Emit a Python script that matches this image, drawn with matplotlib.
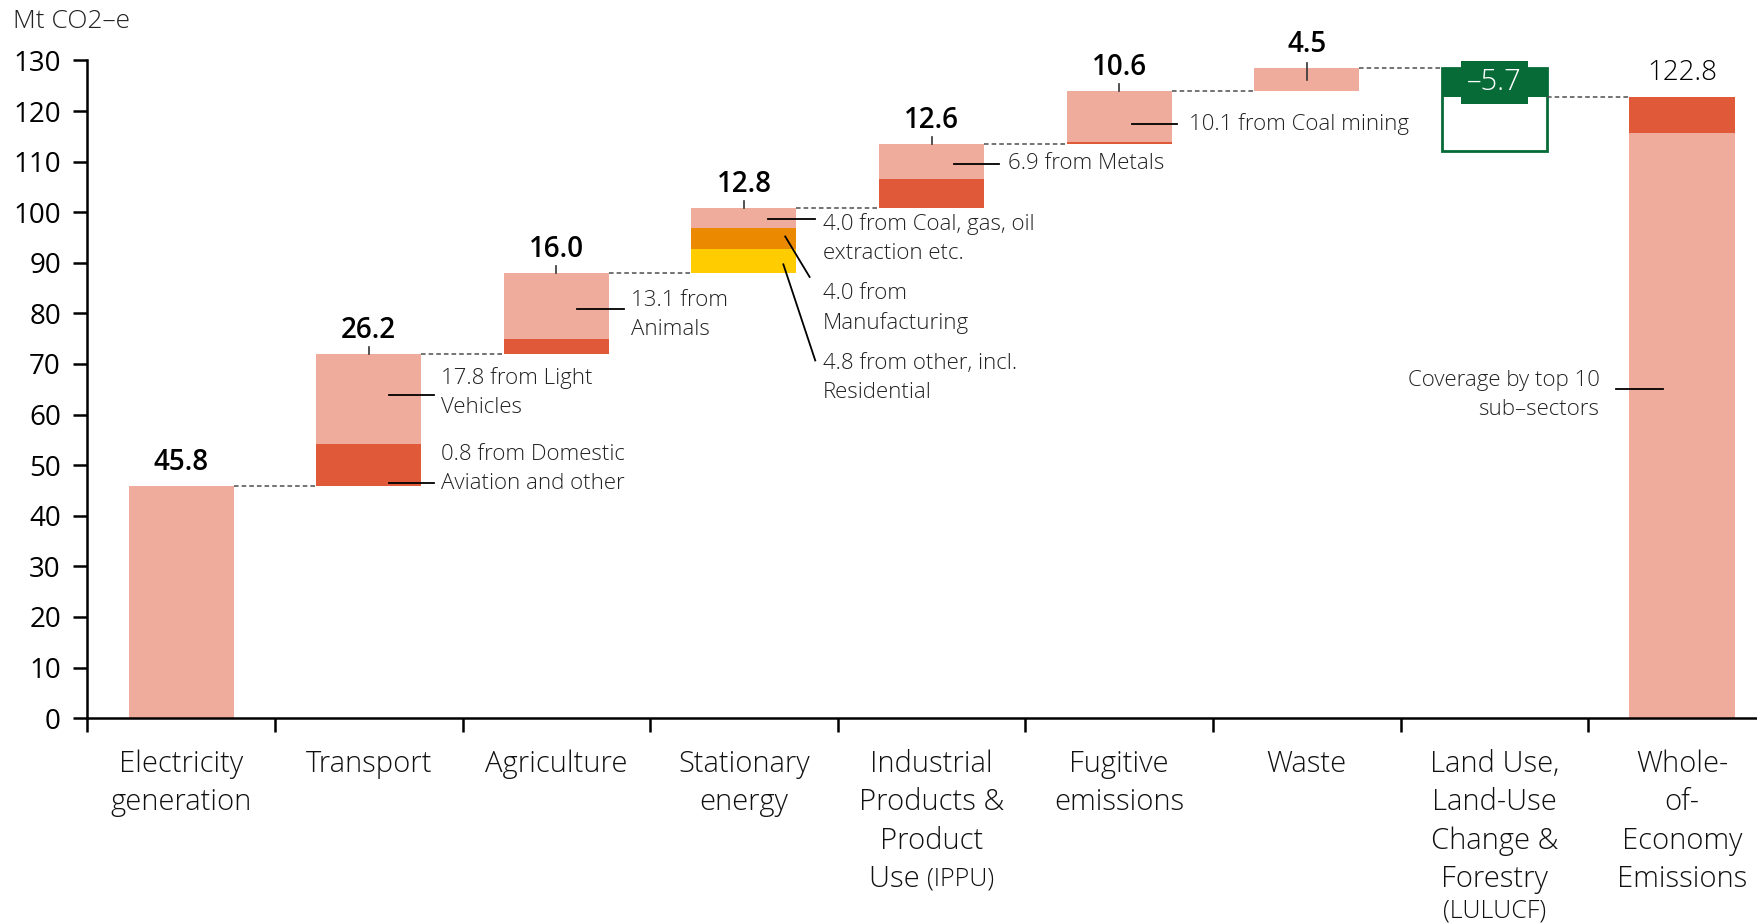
import numpy as np
import matplotlib.pyplot as plt
from matplotlib.transforms import offset_copy

plt.rcParams['font.family'] = ['Open Sans', 'DejaVu Sans']

categories = ["Electricity\ngeneration", "Transport", "Agriculture", "Stationary\nenergy",
              "Industrial\nProducts &\nProduct\nUse (IPPU)", "Fugitive\nemissions", "Waste",
              "Land Use,\nLand-Use\nChange &\nForestry\n(LULUCF)", "Whole-\nof-\nEconomy\nEmissions"]
totals = [45.8, 26.2, 16.0, 12.8, 12.6, 10.6, 4.5, -5.7, 122.8]
value_labels = ["45.8", "26.2", "16.0", "12.8", "12.6", "10.6", "4.5", "\u20135.7", "122.8"]

# sub-segments of each bar
light = [45.8, 17.8, 13.1, 4.0, 6.9, 10.1, 4.5, 0, 115.6]
dark = [0, 8.4, 2.9, 0, 5.7, 0.5, 0, 0, 7.2]
orange = [0, 0, 0, 4.0, 0, 0, 0, 0, 0]
yellow = [0, 0, 0, 4.8, 0, 0, 0, 0, 0]
lulucf_outline_bottom = 112.1

LIGHT = "#EFAB9C"
DARK = "#E05A3A"
ORANGE = "#EB8A00"
YELLOW = "#FFCC00"
GREEN = "#076B38"

fig = plt.figure(figsize=(17.57, 9.23), dpi=100)
ax = fig.add_axes([0.0497, 0.222, 0.961, 0.7125])

w = 0.56
x = np.arange(len(categories))
n = len(categories)

# cumulative bases for the waterfall
tops = np.cumsum(totals[:-1])
bases = np.concatenate([[0], tops[:-1]])

for i in range(n - 2):
    b = bases[i]
    for vals, col in [(yellow, YELLOW), (orange, ORANGE), (dark, DARK), (light, LIGHT)]:
        if vals[i] > 0:
            ax.bar(x[i], vals[i], bottom=b, width=w, color=col, linewidth=0)
            b += vals[i]

# LULUCF negative bar
i = n - 2
ax.bar(x[i], bases[i] - lulucf_outline_bottom, bottom=lulucf_outline_bottom, width=w,
       facecolor="white", edgecolor=GREEN, linewidth=2)
ax.bar(x[i], -totals[i], bottom=tops[i], width=w, color=GREEN, linewidth=0)

# total bar
i = n - 1
ax.bar(x[i], light[i], bottom=0, width=w, color=LIGHT, linewidth=0)
ax.bar(x[i], dark[i], bottom=light[i], width=w, color=DARK, linewidth=0)

# connectors
for i in range(n - 1):
    ax.plot([x[i] + w / 2, x[i + 1] - w / 2], [tops[i], tops[i]],
            ls=(0, (3, 2)), color="#4d4d4d", lw=1.1)

# value labels
for i in range(n):
    if i == n - 2:
        ax.text(x[i], tops[i] - totals[i] / 2, value_labels[i], ha="center", va="center",
                fontsize=21, fontweight="light", color="white",
                bbox=dict(boxstyle="square,pad=0.22", fc=GREEN, ec="none"))
        continue
    top = tops[i] if i < n - 1 else totals[i]
    weight = "light" if i == n - 1 else "semibold"
    ax.text(x[i], top + 4.7, value_labels[i], ha="center", va="center",
            fontsize=20, fontweight=weight, color="black")
    if 0 < i < n - 2:
        if i == 6:
            ax.plot([x[i], x[i]], [top - 2.3, top + 0.9], color="#333333", lw=1.2)
        else:
            ax.plot([x[i], x[i]], [top, top + 1.4], color="#333333", lw=1.2)

ann_kw = dict(fontsize=16, fontweight="light", color="#222222", va="center", linespacing=1.5)
lk = dict(color="black", lw=1.3, clip_on=False)

ax.text(1.385, 64.4, "17.8 from Light\nVehicles", ha="left", **ann_kw)
ax.plot([1.11, 1.35], [63.8, 63.8], **lk)
ax.text(1.385, 49.3, "0.8 from Domestic\nAviation and other", ha="left", **ann_kw)
ax.plot([1.11, 1.35], [46.5, 46.5], **lk)
ax.text(2.40, 79.6, "13.1 from\nAnimals", ha="left", **ann_kw)
ax.plot([2.11, 2.36], [80.8, 80.8], **lk)
ax.text(3.42, 94.9, "4.0 from Coal, gas, oil\nextraction etc.", ha="left", **ann_kw)
ax.plot([3.13, 3.38], [98.7, 98.7], **lk)
ax.text(3.42, 81.0, "4.0 from\nManufacturing", ha="left", **ann_kw)
ax.plot([3.22, 3.35], [95.2, 87.2], **lk)
ax.text(3.42, 67.2, "4.8 from other, incl.\nResidential", ha="left", **ann_kw)
ax.plot([3.21, 3.38], [89.7, 70.7], **lk)
ax.text(4.41, 109.6, "6.9 from Metals", ha="left", **ann_kw)
ax.plot([4.12, 4.36], [109.6, 109.6], **lk)
ax.text(5.37, 117.4, "10.1 from Coal mining", ha="left", **ann_kw)
ax.plot([5.07, 5.31], [117.4, 117.4], **lk)
ax.text(7.56, 63.9, "Coverage by top 10\nsub\u2013sectors", ha="right", **ann_kw)
ax.plot([7.65, 7.90], [65.1, 65.1], **lk)

# axes styling
ax.set_xlim(-0.5, n - 0.5)
ax.set_ylim(0, 130)
ax.set_yticks(np.arange(0, 131, 10))
ax.tick_params(axis="y", labelsize=20, length=10, width=1.8, pad=9)
ax.set_xticks(np.arange(-0.5, n, 1.0))
ax.set_xticklabels([])
ax.tick_params(axis="x", length=10, width=1.8)
for s in ["top", "right"]:
    ax.spines[s].set_visible(False)
ax.spines["left"].set_linewidth(1.8)
ax.spines["bottom"].set_linewidth(1.8)

# category labels, one line at a time (parenthesised parts in a smaller size)
renderer = fig.canvas.get_renderer()
cat_kw = dict(fontweight="light", color="#111111", va="center", clip_on=False)
for i, lab in enumerate(categories):
    for k, line in enumerate(lab.split("\n")):
        y = -9.1 - 7.6 * k
        if line.startswith("("):
            ax.text(x[i], y + 1.4, line, ha="center", fontsize=18, **cat_kw)
        elif "(" in line:
            main, small = line.split("(")
            t1 = ax.text(x[i], y, main, ha="left", fontsize=21, **cat_kw)
            t2 = ax.text(x[i], y, "(" + small, ha="left", fontsize=18, **cat_kw)
            w1 = t1.get_window_extent(renderer).width
            w2 = t2.get_window_extent(renderer).width
            t1.set_transform(offset_copy(ax.transData, fig=fig, x=-(w1 + w2) / 2, units="dots"))
            t2.set_transform(offset_copy(ax.transData, fig=fig, x=w1 - (w1 + w2) / 2, units="dots"))
        else:
            ax.text(x[i], y, line, ha="center", fontsize=21, **cat_kw)

fig.text(13 / 1757, 1 - 21 / 923, "Mt CO2\u2013e", fontsize=19, fontweight="light",
         va="center", ha="left", color="#222222")

fig.savefig("out.png", dpi=100)
